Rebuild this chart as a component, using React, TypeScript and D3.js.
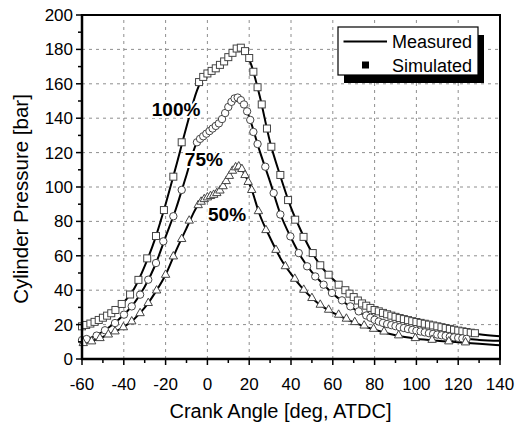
import React from 'react';
import * as d3 from 'd3';

// ---------- data ----------
const measuredAngles = [-60, -55, -50, -45, -40, -35, -30, -25, -20, -15, -10, -5, -2, 0, 3, 6, 9, 12, 15, 18, 21, 25, 30, 35, 40, 45, 50, 55, 60, 65, 70, 80, 90, 100, 110, 120, 130, 140];
const measured100 = [19, 21.1, 24, 27.5, 33, 41, 54, 70, 90, 112, 135, 156, 164, 166, 168, 171, 174, 178, 181, 179, 171, 153, 126, 106, 88, 74, 62, 53, 46.5, 41, 35.5, 27.8, 23.8, 20.8, 18.3, 16, 14.4, 13.2];
const measured75 = [11, 12.7, 16, 20.3, 25.7, 32.5, 42, 54.5, 71, 87.5, 107, 126, 129.5, 131.5, 135, 138, 144, 150, 152, 147, 137, 121, 103, 84, 70.5, 59, 50.5, 44, 38, 33.3, 29.2, 22.3, 18.6, 15.9, 13.8, 12, 11.1, 10.6];
const measured50 = [9, 10.5, 12.8, 15.6, 18.6, 23.2, 29.8, 38.6, 49, 63, 76, 88.5, 92.5, 94, 95.5, 98, 103.5, 109.5, 112, 107, 99, 84, 70.5, 58.5, 49.5, 41.8, 35.5, 30.6, 27, 24, 21.3, 17, 13.8, 11.8, 10.6, 9.7, 8.8, 8];

const sim100Angles = [-60, -58, -56, -54, -52, -50, -48, -46, -44, -41, -37, -33, -28.8, -24.6, -20.8, -16.3, -12.3, -4, -2, 0, 2, 4, 6, 8, 10, 12, 14, 16, 18, 20, 22, 24, 26, 28.5, 30.6, 34.9, 38.6, 42, 46, 50.4, 54, 58, 62.8, 66, 68, 70, 72, 74, 76, 78, 80, 82, 84, 86, 88, 90, 92, 94, 96, 98, 100, 102, 104, 106, 108, 110, 112, 114, 116, 118, 120, 122, 124, 126, 128];
const sim100Values = [19, 19.8, 20.6, 21.6, 22.7, 24, 25.2, 26.6, 28.5, 32, 37.5, 46, 58.5, 71.5, 86.6, 106, 126, 161, 164, 166, 167.5, 169, 171, 173, 175.5, 178, 180.5, 181, 179, 175, 167, 158, 148, 134, 123.4, 107, 92.4, 81, 71, 61.6, 54.5, 49, 43.2, 40, 38, 36, 34, 32.3, 31, 29.7, 28.5, 27.7, 26.8, 26, 25.2, 24.5, 23.8, 23.2, 22.6, 22, 21.5, 21, 20.5, 20, 19.5, 19, 18.5, 18, 17.5, 17, 16.5, 16.1, 15.7, 15.3, 15];

const sim75Angles = [-60, -57.8, -53, -49, -44.2, -39.9, -36.2, -32.2, -28.3, -24.6, -21.1, -16.3, -12.3, -5, -3.5, -2, -0.5, 1, 2.5, 4, 5.5, 7, 8.5, 10, 11.5, 13, 14.5, 16, 17.5, 19, 20.5, 22, 24, 27.7, 31.7, 34.9, 39.7, 43.7, 47.7, 51.6, 55.6, 59.6, 64.4, 68.4, 72.4, 76, 78, 80, 82, 84, 86, 88, 90, 92, 94, 96, 98, 100, 102, 104, 106, 108, 110, 112, 114, 116, 118, 120, 122, 124];
const sim75Values = [11, 11.6, 13.6, 16.7, 20.9, 25.8, 30.6, 37.4, 46.1, 55.8, 68.4, 83, 98.3, 126, 128, 129.5, 131, 132.5, 134, 135.5, 137, 139.5, 143, 146.5, 149.5, 151.5, 152, 150.5, 148, 144, 139, 132, 125, 111.8, 96.5, 84, 71.3, 61.6, 53.9, 48, 43.2, 38.4, 34.1, 30.6, 27.7, 25.3, 24, 22.8, 21.8, 21, 20.3, 19.7, 19.1, 18.5, 18, 17.4, 16.9, 16.4, 16, 15.5, 15, 14.6, 14.2, 13.8, 13.4, 13, 12.6, 12.3, 12, 11.7];

const sim50Angles = [-59.4, -55.4, -51.4, -47.4, -44.2, -40.2, -36.2, -32.2, -28.3, -24.3, -20, -16.3, -12.3, -8.7, -4.4, -3, -1.5, 0, 1.5, 3, 4.5, 6, 7.5, 9, 10.5, 12, 13.5, 15, 16.5, 18, 19.5, 21.2, 24.4, 28, 32.8, 37.3, 41.8, 46.1, 50, 54, 58, 62.8, 66.5, 70.5, 75, 79.5, 84.5, 91.5, 99.5, 107.5, 115.5, 123.5];
const sim50Values = [9.3, 10.3, 12.2, 14.3, 16.1, 18.5, 21.9, 26.7, 32.6, 39.9, 49, 59.7, 69.8, 80.5, 89.5, 91.5, 93, 94, 94.8, 95.5, 96.5, 98, 100.5, 103.5, 106.5, 109.5, 111.5, 112, 110.5, 107, 103, 98.3, 86, 75, 63.5, 54, 46.7, 40.3, 35.5, 31.6, 28.7, 25.8, 23.5, 21.5, 19.5, 17.6, 16, 13.8, 12.2, 11.2, 10.3, 9.7];

const xTicks = [-60, -40, -20, 0, 20, 40, 60, 80, 100, 120, 140];
const yTicks = [0, 20, 40, 60, 80, 100, 120, 140, 160, 180, 200];
const loadLabels = ['100%', '75%', '50%'];
const labelAngles = [-26.6, -10.8, 0.3];
const labelValues = [141.5, 112.5, 80];
const legendLabels = ['Measured', 'Simulated'];

const FONT = '"Liberation Sans", Arial, Helvetica, sans-serif';

export default function App() {
  const W = 524, H = 426;
  const x = d3.scaleLinear().domain([-60, 140]).range([82, 500]);
  const y = d3.scaleLinear().domain([0, 200]).range([359, 15]);
  const line = d3.line<number>()
    .x((_, i) => x(measuredAngles[i]))
    .y((d) => y(d))
    .curve(d3.curveMonotoneX);

  const minorX = d3.range(-60, 141, 10).filter((v) => !xTicks.includes(v));
  const minorY = d3.range(0, 201, 10).filter((v) => !yTicks.includes(v));

  const markerStroke = '#444';
  const square = (cx: number, cy: number, k: string) => (
    <rect key={k} x={cx - 3.5} y={cy - 3.5} width={7} height={7} fill="#fff" stroke={markerStroke} strokeWidth={1} />
  );
  const circle = (cx: number, cy: number, k: string) => (
    <circle key={k} cx={cx} cy={cy} r={3.7} fill="#fff" stroke={markerStroke} strokeWidth={1} />
  );
  const triangle = (cx: number, cy: number, k: string) => (
    <path key={k} d={`M${cx},${cy - 4.8}L${cx + 4.2},${cy + 2.6}L${cx - 4.2},${cy + 2.6}Z`} fill="#fff" stroke={markerStroke} strokeWidth={1} />
  );

  return (
    <svg width={W} height={H} style={{ position: 'absolute', left: 0, top: 0, background: '#fff' }} fontFamily={FONT}>
      <rect x={0} y={0} width={W} height={H} fill="#fff" />
      {/* grid */}
      <g stroke="#444" strokeWidth={0.8} strokeDasharray="3,4" opacity={0.75}>
        {xTicks.slice(1, -1).map((t) => (
          <line key={'gx' + t} x1={x(t)} x2={x(t)} y1={y(0)} y2={y(200)} />
        ))}
        {yTicks.slice(1, -1).map((t) => (
          <line key={'gy' + t} x1={x(-60)} x2={x(140)} y1={y(t)} y2={y(t)} />
        ))}
      </g>

      {/* measured lines */}
      <g fill="none" stroke="#000" strokeWidth={2}>
        <path d={line(measured100) || ''} />
        <path d={line(measured75) || ''} />
        <path d={line(measured50) || ''} />
      </g>

      {/* simulated markers */}
      <g>
        {sim100Angles.map((a, i) => square(x(a), y(sim100Values[i]), 's' + i))}
        {sim75Angles.map((a, i) => circle(x(a), y(sim75Values[i]), 'c' + i))}
        {sim50Angles.map((a, i) => triangle(x(a), y(sim50Values[i]), 't' + i))}
      </g>

      {/* load labels */}
      {loadLabels.map((l, i) => (
        <text key={l} x={x(labelAngles[i])} y={y(labelValues[i])} fontSize={19} fontWeight="bold"
          fill="#000" stroke="#fff" strokeWidth={4} paintOrder="stroke" strokeLinejoin="round">{l}</text>
      ))}

      {/* frame */}
      <rect x={x(-60)} y={y(200)} width={x(140) - x(-60)} height={y(0) - y(200)} fill="none" stroke="#000" strokeWidth={2} />
      <line x1={x(-60)} x2={x(-60)} y1={y(200) - 1} y2={y(0) + 1} stroke="#000" strokeWidth={2.5} />
      <line x1={x(-60) - 1} x2={x(140) + 1} y1={y(0)} y2={y(0)} stroke="#000" strokeWidth={2.5} />

      {/* ticks */}
      <g stroke="#000" strokeWidth={1.5}>
        {xTicks.map((t) => <line key={'xt' + t} x1={x(t)} x2={x(t)} y1={y(0)} y2={y(0) + 6} />)}
        {minorX.map((t) => <line key={'xm' + t} x1={x(t)} x2={x(t)} y1={y(0)} y2={y(0) + 4} />)}
        {yTicks.map((t) => <line key={'yt' + t} x1={x(-60) - 6} x2={x(-60)} y1={y(t)} y2={y(t)} />)}
        {minorY.map((t) => <line key={'ym' + t} x1={x(-60) - 4} x2={x(-60)} y1={y(t)} y2={y(t)} />)}
      </g>
      <g fontSize={17} fill="#000">
        {xTicks.map((t) => (
          <text key={'xl' + t} x={x(t)} y={y(0) + 31} textAnchor="middle">{t}</text>
        ))}
        {yTicks.map((t) => (
          <text key={'yl' + t} x={x(-60) - 9} y={y(t) + 6} textAnchor="end">{t}</text>
        ))}
      </g>

      {/* axis titles */}
      <text x={280.5} y={418} textAnchor="middle" fontSize={20}>Crank Angle [deg, ATDC]</text>
      <text transform="translate(28,199) rotate(-90)" textAnchor="middle" fontSize={20.5}>Cylinder Pressure [bar]</text>

      {/* legend */}
      <g>
        <rect x={344} y={35} width={140} height={48} fill="#000" />
        <rect x={338} y={27} width={140} height={48} fill="#fff" stroke="#000" strokeWidth={1.2} />
        <line x1={343.5} x2={387} y1={41.5} y2={41.5} stroke="#000" strokeWidth={2.2} />
        <rect x={362} y={61.5} width={7} height={7} fill="#000" />
        <text x={392} y={48} fontSize={18}>{legendLabels[0]}</text>
        <text x={392} y={71.5} fontSize={18}>{legendLabels[1]}</text>
      </g>
    </svg>
  );
}
